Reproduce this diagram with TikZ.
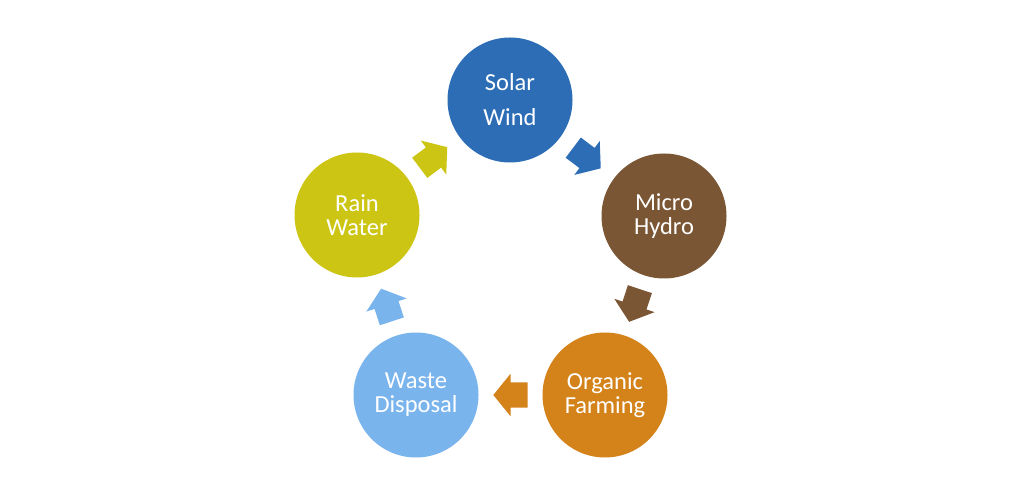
\documentclass[tikz,border=0pt]{standalone}
\usepackage{fontspec}
\setmainfont{Carlito}
\usetikzlibrary{calc}
\definecolor{solarblue}{RGB}{44,109,181}
\definecolor{hydrobrown}{RGB}{122,86,52}
\definecolor{farmorange}{RGB}{212,130,26}
\definecolor{wasteblue}{RGB}{122,180,236}
\definecolor{rainolive}{RGB}{204,197,20}
\tikzset{
	stage/.style={circle, fill=#1, minimum size=125pt, inner sep=0pt, text=white, align=center, font=\fontsize{24.5}{24}\selectfont},
	arrowslot/.style={rectangle, inner sep=0pt, minimum width=34pt, minimum height=42pt, midway, sloped, allow upside down}
}
% block arrow filling the box of an arrowslot node
\newcommand{\blockarrow}[2]{\fill[#2] (#1.east) -- (#1.north) -- ($(#1.north)!.2024!(#1.south)$) -- ($(#1.north west)!.2024!(#1.south west)$) -- ($(#1.south west)!.2024!(#1.north west)$) -- ($(#1.south)!.2024!(#1.north)$) -- (#1.south) -- cycle;}
\begin{document}
\begin{tikzpicture}[x=1pt,y=1pt]
			\useasboundingbox (0,0) rectangle (1024,500);
			\node[stage=solarblue] (solar) at (510,400) {Solar\\[11pt]Wind};
			\node[stage=hydrobrown] (hydro) at (664,284) {Micro\\Hydro};
			\node[stage=farmorange] (farm) at (605,105) {Organic\\Farming};
			\node[stage=wasteblue] (waste) at (416,105) {Waste\\Disposal};
			\node[stage=rainolive] (rain) at (357,285) {Rain\\Water};
			\path (solar) -- (hydro) node[arrowslot] (sh) {};
			\path (hydro) -- (farm) node[arrowslot] (hf) {};
			\path (farm) -- (waste) node[arrowslot] (fw) {};
			\path (waste) -- (rain) node[arrowslot] (wr) {};
			\path (rain) -- (solar) node[arrowslot] (rs) {};
			\blockarrow{sh}{solarblue}
			\blockarrow{hf}{hydrobrown}
			\blockarrow{fw}{farmorange}
			\blockarrow{wr}{wasteblue}
			\blockarrow{rs}{rainolive}
\end{tikzpicture}
\end{document}
